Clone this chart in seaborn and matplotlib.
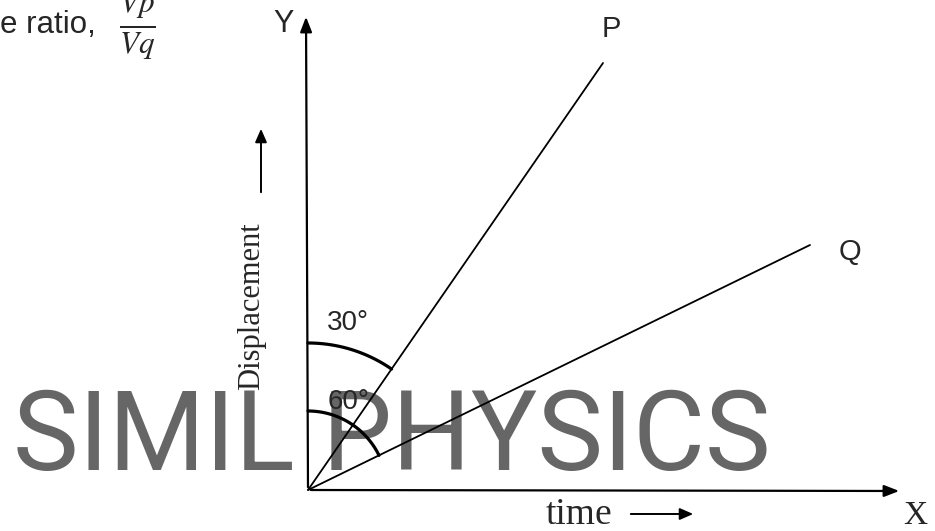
import numpy as np
import pandas as pd
import seaborn as sns
import matplotlib.pyplot as plt

sns.set_style('white')
plt.rcParams['mathtext.fontset'] = 'stix'

# datos de las dos rectas (tiempo, desplazamiento) desde el origen
line_names = ['P', 'Q']
end_time = [295, 502]
end_disp = [427, 245]

# angulos marcados y radio de cada arco
arc_labels = ['30°', '60°']
arc_radius = [147, 79]

rows = []
for name, t, d in zip(line_names, end_time, end_disp):
    rows.append({'line': name, 'time': 0, 'disp': 0})
    rows.append({'line': name, 'time': t, 'disp': d})
df = pd.DataFrame(rows)

fig = plt.figure(figsize=(9.35, 5.31), dpi=100)
ax = fig.add_axes([0, 0, 1, 1])
ax.set_xlim(-308, 627)
ax.set_ylim(-41, 490)
ax.set_axis_off()

# marca de agua
ax.text(-295, 20, 'SIMIL PHYSICS', fontsize=79.7, family='Roboto', color='#666666',
        ha='left', va='baseline', zorder=1)

# rectas P y Q
sns.lineplot(data=df, x='time', y='disp', units='line', estimator=None,
             color='black', lw=1.3, ax=ax, zorder=3, legend=False)
for name, t, d in zip(line_names, end_time, end_disp):
    off = (8, 34) if name == 'P' else (40, -7)
    ax.text(t + off[0], d + off[1], name, fontsize=21, family='Liberation Sans',
            ha='center', va='center', zorder=4)

# arcos de angulo medidos desde el eje Y
for (lab, r), t, d in zip(zip(arc_labels, arc_radius), end_time, end_disp):
    ang = np.linspace(np.arctan2(d, t), np.pi / 2, 60)
    ax.plot(r * np.cos(ang), r * np.sin(ang), color='black', lw=2.3, zorder=3)
ax.text(40, 167, arc_labels[0], fontsize=20, family='Liberation Sans',
        ha='center', va='center', zorder=4)
ax.text(41, 88, arc_labels[1], fontsize=20, family='Liberation Sans',
        ha='center', va='center', zorder=4)

# ejes con flecha
arrow = dict(arrowstyle='-|>,head_length=0.9,head_width=0.35', color='black', lw=1.6)
ax.annotate('', xy=(-2, 476), xytext=(0, 0), arrowprops=arrow, zorder=3)
ax.annotate('', xy=(594, -1), xytext=(0, 0), arrowprops=arrow, zorder=3)
ax.text(-24, 466, 'Y', fontsize=22, family='Liberation Sans', ha='center', va='center')
ax.text(607, -26, 'X', fontsize=24, family='Liberation Serif', ha='center', va='center')

# etiquetas de ejes
ax.text(238, -25, 'time', fontsize=27, family='Liberation Serif', ha='left', va='center')
small = dict(arrowstyle='-|>,head_length=0.8,head_width=0.35', color='black', lw=1.4)
ax.annotate('', xy=(388, -24), xytext=(320, -24), arrowprops=small)
ax.text(-56, 184, 'Displacement', fontsize=22, family='Liberation Serif',
        rotation=90, ha='center', va='center')
ax.annotate('', xy=(-47, 364), xytext=(-47, 295), arrowprops=small)

# texto recortado arriba a la izquierda
ax.text(-308, 457, 'e ratio,', fontsize=22.5, family='Liberation Sans', ha='left', va='baseline')
ax.text(-171, 465, r'$\frac{Vp}{Vq}$', fontsize=32, ha='center', va='center')

fig.savefig('out.png', dpi=100, facecolor='white')
